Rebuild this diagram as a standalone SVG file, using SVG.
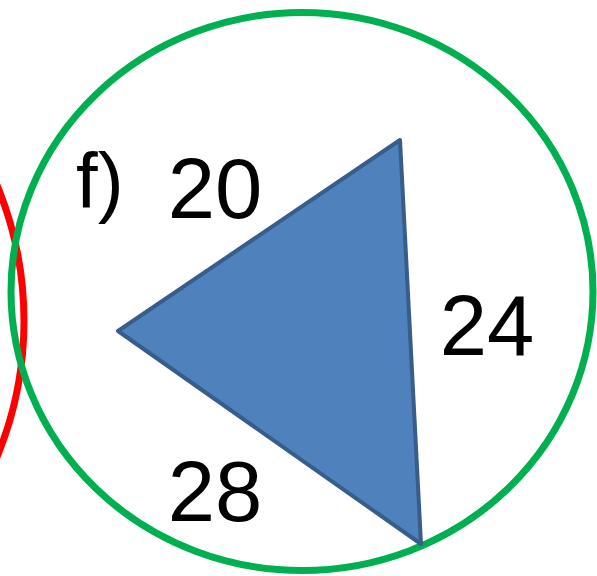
<svg xmlns="http://www.w3.org/2000/svg" width="597" height="576" viewBox="0 0 597 576">
<style>
.lbl{font-family:"Liberation Sans",Arial,sans-serif;fill:#000;}
.num{font-size:85px;text-anchor:middle;}
</style>
<rect width="597" height="576" fill="#fff"/>
<g id="red-circle"><ellipse cx="-331" cy="321" rx="355" ry="355" fill="none" stroke="#FF0000" stroke-width="7"/></g>
<g id="green-circle"><ellipse cx="302" cy="291.5" rx="291" ry="279" fill="none" stroke="#00B050" stroke-width="7"/></g>
<g id="triangle"><polygon points="400,140 118,331 421,544" fill="#4F81BD" stroke="#385D8A" stroke-width="4" stroke-linejoin="round"/></g>
<g id="labels">
<text class="lbl" x="76" y="208" font-size="78">f)</text>
<text class="lbl num" x="215" y="218">20</text>
<text class="lbl num" x="487" y="355">24</text>
<text class="lbl num" x="215" y="521">28</text>
</g>
</svg>
